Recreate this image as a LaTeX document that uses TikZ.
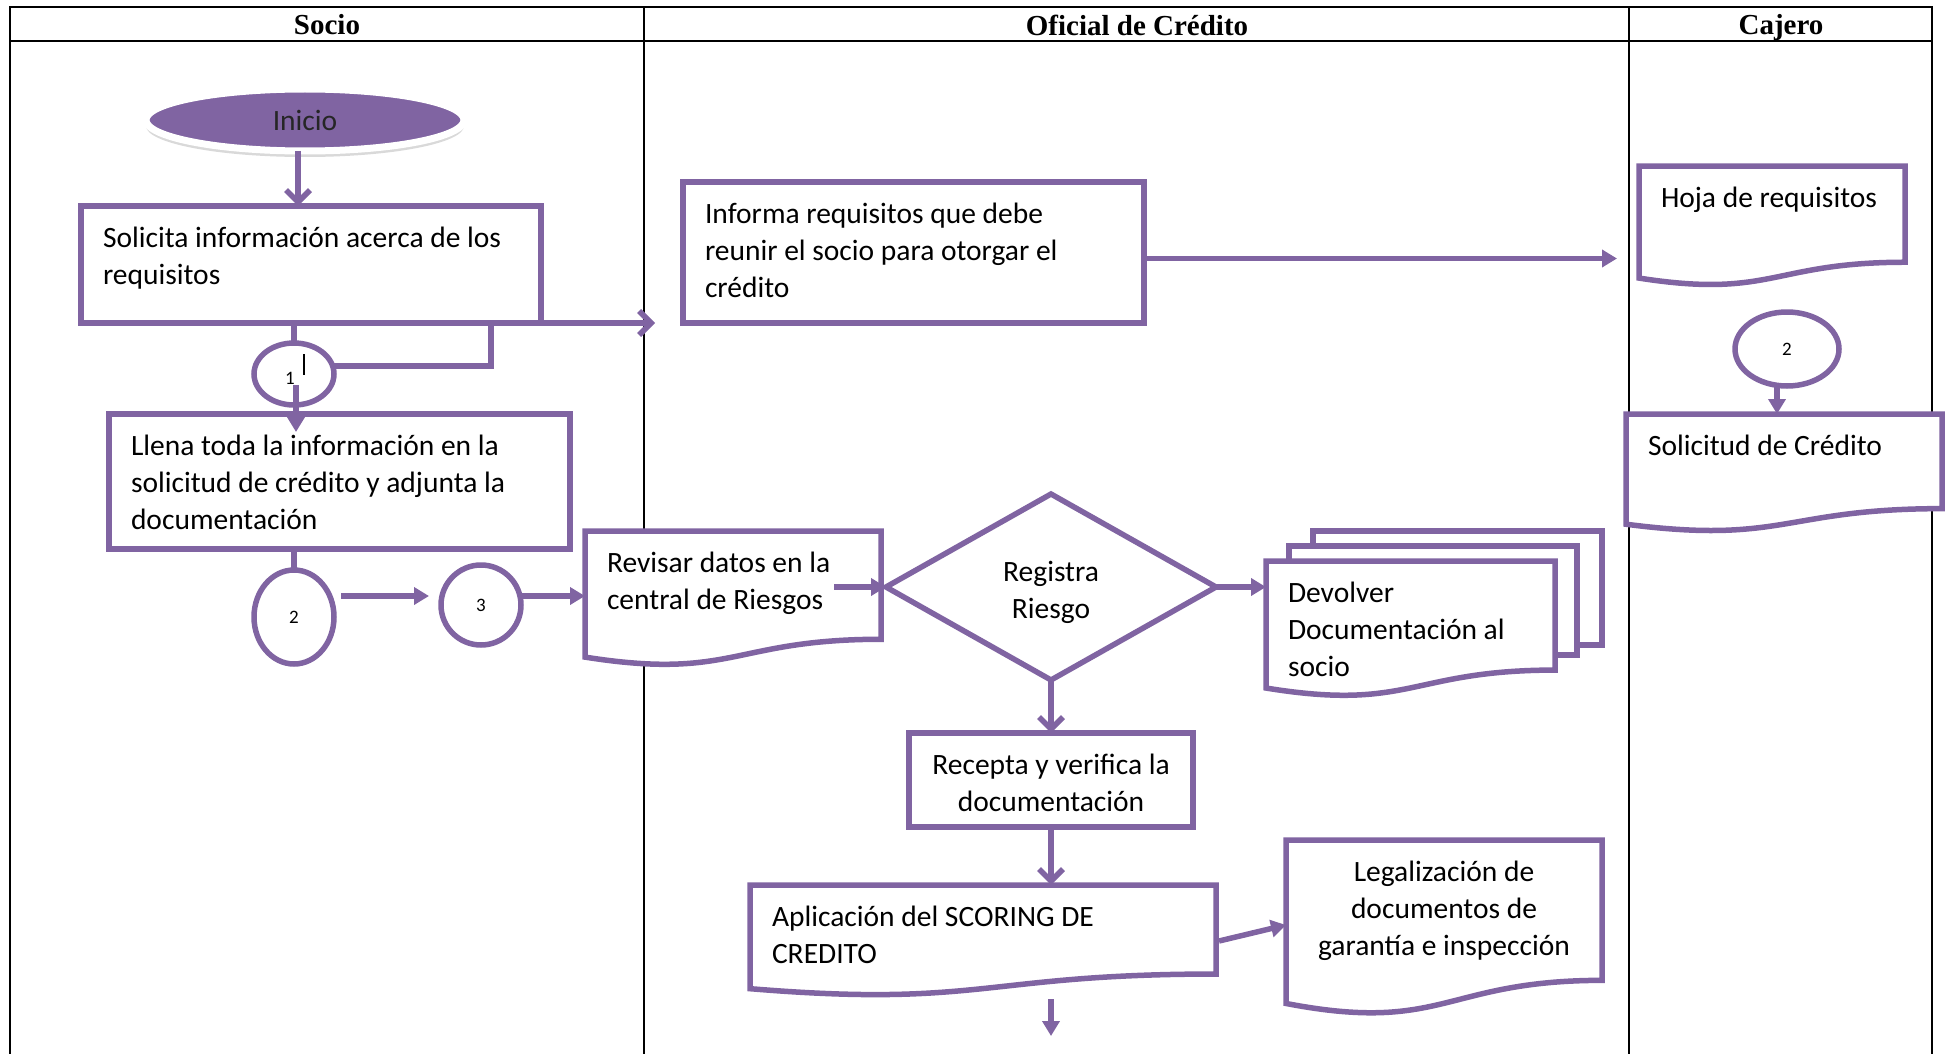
\documentclass[tikz,border=0pt]{standalone}
\usepackage{fontspec}
\setmainfont{Carlito}
\newfontfamily\headfont{Liberation Serif}
\usetikzlibrary{arrows.meta,shapes.geometric,calc,shadows}
\definecolor{purp}{HTML}{8064A2}
\pgfdeclarelayer{tablelayer}
\pgfdeclarelayer{shapelayer}
\pgfsetlayers{tablelayer,shapelayer,main}

% text block inside a box: width, height, text (left aligned, top)
\newcommand\tl[3]{\parbox[c][#2pt][t]{#1pt}{\raggedright\leftskip=22pt\vspace*{16pt}\strut #3}}
% text block, centred
\newcommand\tc[3]{\parbox[c][#2pt][t]{#1pt}{\centering\vspace*{16pt}\strut #3}}
% document outline (wavy bottom) around a named node
\newcommand\docoutline[1]{%
  \draw[flow,fill=white] let \p1=(#1.north west), \p2=(#1.south east) in
    (\p1) -- (\x2,\y1) -- (\x2,{\y1+0.802*(\y2-\y1)})
    .. controls ({(\x1+\x2)/2},{\y1+0.802*(\y2-\y1)}) and ({(\x1+\x2)/2},{\y1+1.1075*(\y2-\y1)}) ..
    (\x1,{\y1+0.934*(\y2-\y1)}) -- cycle;}

\begin{document}
\begin{tikzpicture}[x=1pt,y=-1pt,
  every node/.style={font=\fontsize{29.5}{37}\selectfont},
  flow/.style={draw=purp,line width=5.5pt},
  tbl/.style={draw=black,line width=2pt},
  pbox/.style={flow,inner sep=0pt,outer sep=0pt,anchor=north west},
  dnode/.style={inner sep=0pt,outer sep=0pt,anchor=north west},
  conn/.style={ellipse,flow,fill=white,inner sep=0pt,outer sep=0pt,font=\fontsize{19}{21}\selectfont},
  head/.style={font=\headfont\bfseries\fontsize{29}{32}\selectfont},
  vtip/.style={-{Straight Barb[length=12pt,width=24pt]}},
  ftip/.style={-{Triangle[length=15pt,width=17pt]}},
  line join=miter]

\path[use as bounding box] (0,0) rectangle (1946,1054);

% swimlane table
\begin{pgfonlayer}{tablelayer}
  \draw[tbl] (10,1070) -- (10,7.5) -- (1932,7.5) -- (1932,1070);
  \draw[tbl] (10,41) -- (1932,41);
  \draw[tbl] (644,7.5) -- (644,1070);
  \draw[tbl] (1629,7.5) -- (1629,1070);
\end{pgfonlayer}
\node[head] (hsocio) at (327,25) {Socio};
\node[head] (hoficial) at (1137,25) {Oficial de Crédito};
\node[head] (hcajero) at (1781,28) {Cajero};

% start terminal
\node[ellipse,fill=purp,draw=white,line width=7pt,outer sep=0pt,minimum width=318pt,minimum height=62pt,
      text=black!85,
      drop shadow={shadow xshift=0pt,shadow yshift=-6pt,opacity=0.25,fill=black!60}]
      (inicio) at (305,120) {Inicio};

% Socio lane
\node[pbox] (solicita) at (81,206) {\tl{460}{117}{Solicita información acerca de los\\requisitos}};
\node[conn,minimum width=80pt,minimum height=62pt] (c1) at (294,374) {};
\node[pbox] (llena) at (109,414) {\tl{461}{135}{Llena toda la información en la\\solicitud de crédito y adjunta la\\documentación}};
\node[conn,minimum width=80pt,minimum height=94pt] (c2) at (294,617) {2};
\node[conn,minimum width=80pt,minimum height=80pt] (c3) at (481,605) {3};

% Oficial lane
\node[pbox] (informa) at (683,182) {\tl{461}{141}{Informa requisitos que debe\\reunir el socio para otorgar el\\crédito}};
\node[dnode] (revisar) at (585,531) {\tl{296}{135}{Revisar datos en la\\central de Riesgos}};
\node[diamond,flow,fill=white,inner sep=0pt,outer sep=0pt,minimum width=330pt,minimum height=186pt,
      label={[align=center,yshift=-5pt]center:Registra\\Riesgo}]
      (riesgo) at (1051,587) {};
\node[dnode] (devolver) at (1266,561) {\tl{289}{136}{Devolver\\Documentación al\\socio}};
\node[pbox] (recepta) at (909,733) {\tc{284}{94}{Recepta y verifica la\\documentación}};
\node[dnode] (aplic) at (750,885) {\tl{466}{111}{Aplicación del SCORING DE\\CREDITO}};
\node[dnode] (legal) at (1286,840) {\tc{316}{175}{Legalización de\\documentos de\\garantía e inspección}};

% Cajero lane
\node[dnode] (hoja) at (1639,166) {\tl{266}{120}{Hoja de requisitos}};
\node[conn,minimum width=104pt,minimum height=74pt] (cc) at (1787,349) {2};
\node[dnode] (solcred) at (1626,414) {\tl{316}{118}{Solicitud de Crédito}};

% document outlines
\begin{pgfonlayer}{shapelayer}
  \docoutline{revisar}
  \draw[flow,fill=white] (1313,531) rectangle (1602,645);
  \draw[flow,fill=white] (1289,546) rectangle (1577,655);
  \docoutline{devolver}
  \docoutline{aplic}
  \docoutline{legal}
  \docoutline{hoja}
  \docoutline{solcred}
\end{pgfonlayer}

% free ends of connectors
\coordinate (toinforma) at (655,323);
\coordinate (tohoja) at (1617,258.5);
\coordinate (onward) at ($(recepta.south |- aplic.south)+(0,40)$);

% connectors
\draw[flow,vtip] ([xshift=-7pt]inicio.south) -- ([xshift=-7pt]inicio.south |- solicita.north);
\draw[flow,vtip] (solicita.south east) -- (toinforma);
\draw[flow] (c1.north |- solicita.south) -- (c1.north);
\draw[flow] (c1.12) -| ([xshift=410pt]solicita.south west);
\draw[flow,ftip] ($(c1.center)+(2,11)$) -- ($(c1.center |- llena.north)+(2,18)$);
\draw[black,line width=1.2pt] ($(c1.center)+(10,-20)$) -- ($(c1.center)+(10,1)$);
\node[font=\fontsize{19}{21}\selectfont] (c1t) at (290,378) {1};
\draw[flow] (c2.north |- llena.south) -- (c2.north);
\draw[flow,ftip] ($(c2.east)+(7,-21)$) -- ($(c3.west)+(-12,-9)$);
\draw[flow,ftip] ($(c3.east)+(0,-9)$) -- ($(revisar.north west)+(0,65)$);
\draw[flow,ftip] ($(revisar.north east |- riesgo.west)+(-47,0)$) -- (riesgo.west);
\draw[flow,ftip] (riesgo.east) -- (devolver.west |- riesgo.east);
\draw[flow,vtip] (riesgo.south) -- (recepta.north);
\draw[flow,vtip] (recepta.south) -- (recepta.south |- aplic.north);
\draw[flow,ftip] ($(aplic.north east)+(3,56)$) -- ($(legal.north west)+(0,85)$);
\draw[flow,ftip] ($(recepta.south |- aplic.south)+(0,3)$) -- (onward);
\draw[flow,ftip] ($(informa.east)+(0,6)$) -- (tohoja);
\draw[flow,ftip] ($(cc.south)+(-10,0)$) -- ($(cc.south |- solcred.north)+(-10,0)$);
\end{tikzpicture}
\end{document}
